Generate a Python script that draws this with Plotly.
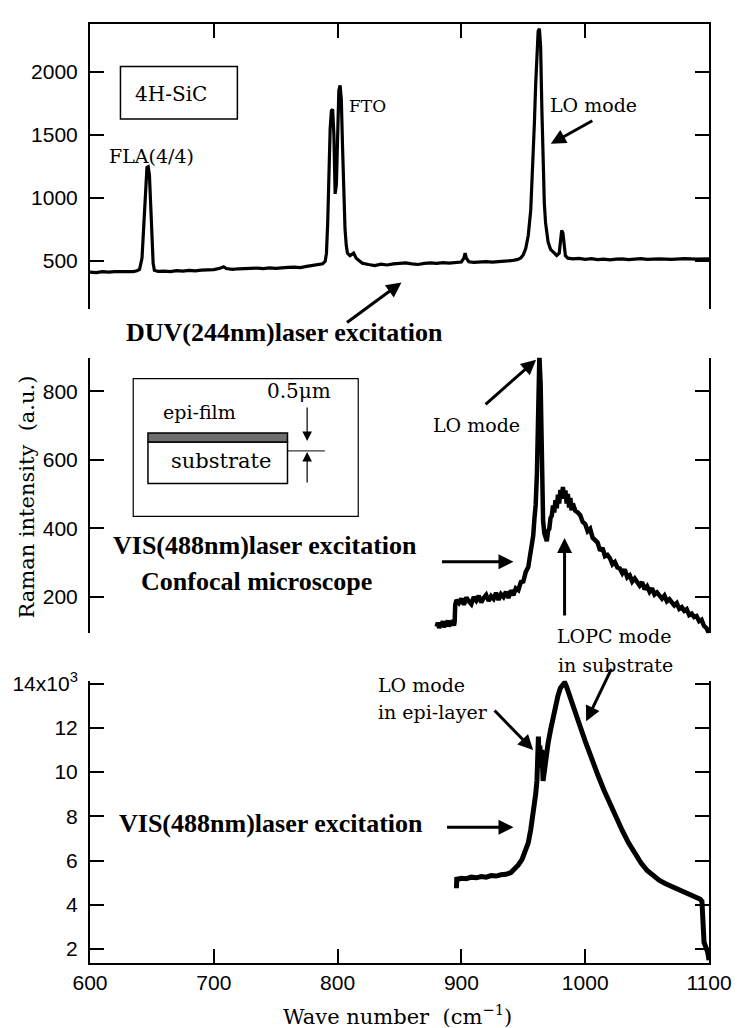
import plotly.graph_objects as go

# ---- spectra: wavenumber (cm^-1) and Raman intensity ----
# DUV (244 nm) excitation
duv_wn = [600, 605, 610, 615, 620, 625, 630, 635, 638, 640, 642, 643, 644, 645, 646, 647, 648, 649,
          650, 651, 652, 655, 660, 665, 670, 675, 680, 685, 690, 695, 700, 705, 708, 710, 715, 720,
          725, 730, 735, 740, 745, 750, 755, 760, 765, 770, 775, 780, 785, 788, 790, 791, 792, 793,
          794, 795, 796, 797, 798, 799, 800, 801, 802, 803, 804, 805, 806, 807, 808, 810, 812, 813,
          815, 818, 820, 825, 830, 835, 840, 845, 850, 855, 860, 865, 870, 875, 880, 885, 890, 895,
          900, 902, 903, 904, 906, 910, 915, 920, 925, 930, 935, 940, 945, 948, 950, 952, 954, 956,
          958, 959, 960, 961, 962, 963, 964, 965, 966, 967, 968, 970, 972, 975, 977, 979, 980, 981,
          982, 983, 984, 986, 990, 995, 1000, 1005, 1010, 1015, 1020, 1025, 1030, 1035, 1040, 1045,
          1050, 1060, 1070, 1080, 1090, 1100]
duv_int = [410, 406, 413, 409, 414, 412, 416, 414, 420, 430, 520, 700, 950, 1150, 1240, 1245, 1180, 950,
           650, 480, 425, 415, 418, 414, 421, 417, 423, 419, 425, 428, 430, 440, 452, 438, 432, 436,
           438, 434, 441, 437, 443, 439, 445, 447, 449, 445, 455, 462, 468, 476, 495, 560, 800, 1200,
           1550, 1690, 1700, 1500, 1030, 1100, 1600, 1850, 1890, 1780, 1400, 1000, 750, 620, 560, 540, 552, 560,
           520, 495, 480, 470, 462, 472, 466, 475, 479, 483, 475, 470, 479, 483, 479, 485, 481, 487,
           490, 520, 560, 520, 492, 487, 491, 493, 489, 495, 497, 500, 508, 522, 548, 598, 700, 900,
           1300, 1600, 1900, 2150, 2320, 2340, 2200, 1700, 1250, 950, 800, 650, 590, 560, 542, 560, 650, 740,
           720, 600, 540, 520, 514, 518, 511, 516, 509, 513, 507, 513, 515, 509, 512, 516,
           511, 515, 511, 516, 513, 515]

# VIS (488 nm) excitation, confocal microscope
conf_wn = [880, 881, 882, 883, 884, 885, 886, 887, 888, 889, 890, 891, 892, 893, 894, 894.6,
           895, 896, 898, 900, 902, 904, 906, 908, 910, 912, 914, 916, 918, 920, 922, 924, 926, 928,
           930, 932, 934, 936, 938, 940, 942, 944, 946, 948, 950, 952, 954, 956, 958, 959, 960, 961,
           962, 963, 964, 965, 966, 967, 968, 969, 970, 971, 972, 973, 974, 975, 976, 977, 978, 979,
           980, 981, 982, 983, 984, 985, 986, 987, 988, 989,
           990, 992, 994, 996, 998, 1000, 1002, 1004, 1006, 1008, 1010, 1012, 1014, 1016, 1018, 1020,
           1022, 1024, 1026, 1028, 1030, 1032, 1034, 1036, 1038, 1040, 1042, 1044, 1046, 1048, 1050,
           1052, 1054, 1056, 1058, 1060, 1062, 1064, 1066, 1068, 1070, 1072, 1074, 1076, 1078, 1080,
           1082, 1084, 1086, 1088, 1090, 1092, 1094, 1096, 1098, 1100]
conf_int = [112, 124, 108, 121, 115, 128, 110, 125, 118, 130, 112, 126, 119, 131, 115, 128,
            176, 190, 181, 194, 176, 197, 186, 178, 199, 188, 202, 183, 196, 205, 187, 201, 193, 211,
            190, 207, 199, 214, 196, 218, 204, 224, 219, 242, 244, 272, 286, 336, 378, 428, 468, 560,
            700, 905, 820, 560, 420, 385, 372, 362, 392, 398, 430, 436, 466, 446, 482, 458, 498, 472,
            512, 486, 520, 488, 510, 472, 500, 460, 488, 452,
            472, 451, 446, 438, 418, 412, 391, 398, 372, 364, 358, 334, 342, 318, 322, 312,
            294, 301, 285, 282, 268, 279, 256, 262, 244, 253, 240, 232, 242, 221, 230,
            214, 224, 206, 212, 205, 194, 203, 186, 192, 182, 174, 181, 164, 169, 158,
            163, 146, 150, 140, 143, 128, 132, 114, 108, 92]

# VIS (488 nm) excitation, x10^3 counts
vis_wn = [896, 896.3, 897, 900, 904, 908, 912, 916, 920, 924, 928, 932, 936, 940, 943, 946, 949, 952,
          954, 956, 957.5, 959, 960, 961, 961.6, 962.2, 962.8, 963.4, 964, 965, 966, 967, 968, 970, 972,
          974, 976, 978, 980, 982, 983.5, 985, 987, 990, 993, 996, 1000, 1005, 1010, 1015, 1020, 1025,
          1030, 1035, 1040, 1045, 1050, 1055, 1060, 1065, 1070, 1075, 1080, 1085, 1090, 1093, 1094.3,
          1094.6, 1095, 1096, 1097, 1098, 1099, 1100]
vis_int = [4.75, 5.25, 5.15, 5.2, 5.18, 5.25, 5.22, 5.28, 5.25, 5.32, 5.3, 5.36, 5.38, 5.46, 5.6, 5.8, 6.05, 6.45,
           6.8, 7.4, 7.9, 8.5, 9.0, 9.6, 10.6, 11.6, 10.4, 11.2, 10.2, 11.0, 9.6, 10.1, 10.6, 11.3, 11.9,
           12.5, 13.0, 13.45, 13.8, 14.0, 14.05, 13.85, 13.55, 13.1, 12.6, 12.05, 11.4, 10.6, 9.9, 9.2, 8.55, 7.95,
           7.35, 6.8, 6.3, 5.9, 5.55, 5.3, 5.1, 4.95, 4.83, 4.72, 4.62, 4.5, 4.36, 4.25, 4.15,
           3.4, 2.6, 2.3, 2.15, 2.05, 1.85, 1.5]

x_ticks = [600, 700, 800, 900, 1000, 1100]
duv_ticks = [500, 1000, 1500, 2000]
conf_ticks = [200, 400, 600, 800]
vis_ticks = [2, 4, 6, 8, 10, 12, 14]
vis_ticktext = ["2", "4", "6", "8", "10", "12", "14x10<sup>3</sup>"]

# ---- page geometry (pixels) ----
FW, FH = 744, 1028
L, R, T, B = 89, 719, 15, 963
PW, PH = R - L, B - T


def px(x):
    return (x - L) / PW


def py(y):
    return (B - y) / PH


SANS = "Liberation Sans, Arial, sans-serif"
SERIF = "DejaVu Serif, serif"
BOLD = "Liberation Serif, Times New Roman, serif"
INK = "black"

fig = go.Figure()
fig.add_trace(go.Scatter(x=duv_wn, y=duv_int, xaxis="x2", yaxis="y", mode="lines",
                         line=dict(color=INK, width=3.2), hoverinfo="skip"))
fig.add_trace(go.Scatter(x=conf_wn, y=conf_int, xaxis="x3", yaxis="y2", mode="lines",
                         line=dict(color=INK, width=4.5), hoverinfo="skip"))
fig.add_trace(go.Scatter(x=vis_wn, y=vis_int, xaxis="x", yaxis="y3", mode="lines",
                         line=dict(color=INK, width=5), hoverinfo="skip"))

tickfont = dict(family=SANS, size=21, color=INK)
common_y = dict(showline=True, linecolor=INK, linewidth=2, mirror="ticks", ticks="inside",
                ticklen=14, tickwidth=2, tickcolor=INK, showgrid=False, zeroline=False,
                tickfont=tickfont, ticklabelstandoff=6)

fig.update_layout(
    width=FW, height=FH,
    margin=dict(l=L, r=FW - R, t=T, b=FH - B),
    paper_bgcolor="white", plot_bgcolor="white",
    showlegend=False,
    xaxis=dict(domain=[0, 1], anchor="y3", range=[600, 1100], tickvals=x_ticks,
               showline=True, linecolor=INK, linewidth=2, ticks="inside", ticklen=14,
               tickwidth=1.5, tickcolor=INK, showgrid=False, zeroline=False, tickfont=tickfont),
    xaxis2=dict(domain=[0, 1], anchor="y", side="top", matches="x", range=[600, 1100],
                tickvals=x_ticks, showline=True, linecolor=INK, linewidth=2, ticks="inside",
                ticklen=14, tickwidth=1.5, tickcolor=INK, showticklabels=False,
                showgrid=False, zeroline=False),
    xaxis3=dict(domain=[0, 1], anchor="y2", matches="x", range=[600, 1100], visible=False),
    yaxis=dict(domain=[py(303), py(15)], range=[115, 2377], tickvals=duv_ticks, **common_y),
    yaxis2=dict(domain=[py(630), py(352)], range=[93, 898], tickvals=conf_ticks, **common_y),
    yaxis3=dict(domain=[0, py(678)], range=[1.37, 14.13], tickvals=vis_ticks,
                ticktext=vis_ticktext, **common_y),
)

ann = []


def text(x, y, s, size=19, family=SERIF, xanchor="center", bold=False):
    ann.append(dict(x=px(x), y=py(y), xref="paper", yref="paper", text=s, showarrow=False,
                    xanchor=xanchor, yanchor="middle",
                    font=dict(family=BOLD if bold else family, size=size, color=INK)))


def arrow(tail, head, width=3, size=1.0, head_style=2):
    ann.append(dict(x=px(head[0]), y=py(head[1]), xref="paper", yref="paper", text="",
                    showarrow=True, arrowhead=head_style, arrowsize=size, arrowwidth=width,
                    arrowcolor=INK, ax=tail[0] - head[0], ay=tail[1] - head[1], standoff=0))


# top panel labels
text(171, 86, "4H-SiC", size=20)
text(152, 148, "FLA(4/4)", size=19)
text(371, 98, "FTO", size=17)
text(601, 97, "LO mode", size=19)
arrow((601, 112), (558, 136))
text(287, 326, "<b>DUV(244nm)laser excitation</b>", size=26, bold=True)
arrow((350, 317), (406, 276))

# middle panel labels
text(267, 541, "<b>VIS(488nm)laser excitation</b>", size=26, bold=True)
text(258, 578, "<b>Confocal microscope</b>", size=26, bold=True)
arrow((447, 558), (520, 558))
text(482, 420, "LO mode", size=19)
arrow((491, 400), (543, 354))
arrow((572, 613), (572, 534))
text(622, 633, "LOPC mode", size=19)
text(624, 662, "in substrate", size=19)

# bottom panel labels
text(380, 682, "LO mode", size=19, xanchor="left")
text(380, 710, "in epi-layer", size=19, xanchor="left")
arrow((500, 707), (540, 748))
arrow((620, 665), (594, 719))
text(273, 822, "<b>VIS(488nm)laser excitation</b>", size=26, bold=True)
arrow((452, 826), (520, 826))

# inset: epi-film on substrate
text(200, 407, "epi-film", size=19)
text(222, 456, "substrate", size=21)
text(302, 386, "0.5μm", size=20)
arrow((310, 401), (310, 436), width=1.2, size=1.6)
arrow((310, 479), (310, 447), width=1.2, size=1.6)

# axis titles
text(402, 1015, "Wave number  (cm<sup>−1</sup>)", size=21)
ann.append(dict(x=px(25), y=py(493), xref="paper", yref="paper", xanchor="center",
                yanchor="middle", text="Raman intensity  (a.u.)", showarrow=False,
                textangle=-90, font=dict(family=SERIF, size=21, color=INK)))

shapes = [
    # 4H-SiC label frame
    dict(type="rect", xref="paper", yref="paper", x0=px(120), x1=px(239), y0=py(111), y1=py(58),
         line=dict(color=INK, width=1.5)),
    # inset frame
    dict(type="rect", xref="paper", yref="paper", x0=px(133), x1=px(362), y0=py(512), y1=py(373),
         line=dict(color=INK, width=1.2)),
    # substrate block
    dict(type="rect", xref="paper", yref="paper", x0=px(148), x1=px(290), y0=py(479), y1=py(437),
         line=dict(color=INK, width=1.5)),
    # epitaxial film
    dict(type="rect", xref="paper", yref="paper", x0=px(148), x1=px(290), y0=py(437), y1=py(428),
         fillcolor="#6e6e6e", line=dict(color=INK, width=1.5)),
    # thickness reference line
    dict(type="line", xref="paper", yref="paper", x0=px(290), x1=px(328), y0=py(446), y1=py(446),
         line=dict(color=INK, width=1)),
]

fig.update_layout(annotations=ann, shapes=shapes)
fig.write_html("out.html")
